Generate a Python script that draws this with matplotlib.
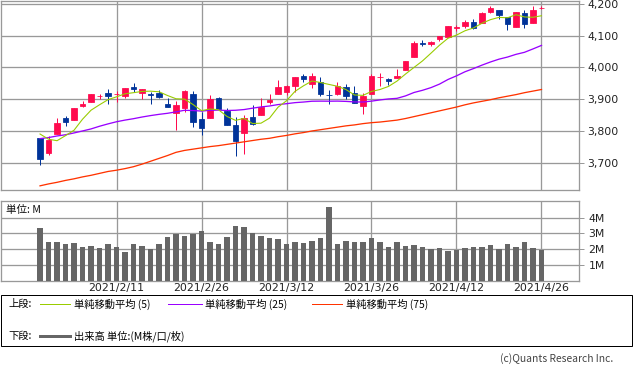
import matplotlib
matplotlib.use('Agg')
import matplotlib.pyplot as plt
from matplotlib.lines import Line2D
from matplotlib.patches import Rectangle
import numpy as np

# ---------------- data ----------------
date_ticks = [9, 19, 29, 39, 49, 59]
date_labels = ["2021/2/11", "2021/2/26", "2021/3/12", "2021/3/26", "2021/4/12", "2021/4/26"]
price_ticks = [3700, 3800, 3900, 4000, 4100, 4200]
price_labels = ["3,700", "3,800", "3,900", "4,000", "4,100", "4,200"]
vol_ticks = [1, 2, 3, 4]
vol_labels = ["1M", "2M", "3M", "4M"]

opens = [3778.1, 3731.2, 3791.8, 3840.3, 3836.7, 3878.3, 3892.6, 3910.5, 3920.8, 3916.4,
         3911.7, 3939.6, 3918.5, 3915.9, 3921.2, 3885.6, 3857.1, 3873.7, 3915.8, 3839.7,
         3842.5, 3903.6, 3864.0, 3818.5, 3793.6, 3844.4, 3851.9, 3892.0, 3915.5, 3924.5,
         3943.0, 3973.6, 3949.6, 3953.5, 3913.14, 3916.5, 3937.6, 3919.9, 3879.3, 3917.1,
         3969.3, 3963.3, 3967.3, 3992.8, 4034.4, 4075.6, 4074.3, 4090.0, 4096.1, 4124.7,
         4130.1, 4141.6, 4139.8, 4174.1, 4179.8, 4159.2, 4128.4, 4170.5, 4138.8, 4185.0]
highs = [3778.1, 3784.3, 3843.1, 3847.5, 3872.4, 3894.6, 3915.8, 3918.4, 3931.5, 3926.0,
         3937.2, 3950.4, 3933.6, 3922.0, 3930.4, 3902.9, 3896.0, 3928.7, 3925.0, 3861.1,
         3914.5, 3906.4, 3874.5, 3843.7, 3851.7, 3881.1, 3903.8, 3917.4, 3960.3, 3945.0,
         3970.1, 3981.0, 3983.9, 3969.6, 3930.1, 3955.3, 3949.1, 3942.1, 3919.5, 3978.2,
         3981.8, 3968.0, 3994.4, 4020.6, 4083.4, 4086.2, 4083.1, 4098.2, 4129.5, 4131.8,
         4148.0, 4151.7, 4173.5, 4191.3, 4180.8, 4159.2, 4175.0, 4179.6, 4194.2, 4194.2]
lows = [3694.1, 3725.6, 3791.8, 3816.7, 3836.7, 3874.9, 3892.6, 3902.6, 3884.9, 3890.4,
        3905.8, 3923.9, 3900.4, 3885.0, 3903.1, 3874.7, 3805.6, 3859.6, 3814.0, 3789.5,
        3842.5, 3868.6, 3818.9, 3723.3, 3730.2, 3819.3, 3851.9, 3885.7, 3915.5, 3915.2,
        3923.5, 3953.4, 3935.7, 3910.9, 3886.8, 3914.2, 3901.6, 3889.1, 3853.5, 3917.1,
        3943.3, 3944.4, 3967.0, 3992.8, 4034.4, 4068.1, 4068.3, 4082.5, 4095.5, 4114.8,
        4124.4, 4120.9, 4139.8, 4170.8, 4150.5, 4118.4, 4126.4, 4123.7, 4138.8, 4182.4]
closes = [3714.2, 3773.9, 3826.3, 3830.2, 3871.7, 3886.8, 3915.6, 3911.2, 3909.9, 3916.4,
          3934.8, 3932.6, 3931.3, 3914.0, 3906.7, 3876.5, 3881.4, 3925.4, 3829.3, 3811.2,
          3901.8, 3870.3, 3819.7, 3768.5, 3841.9, 3821.4, 3875.4, 3898.8, 3939.3, 3943.3,
          3968.9, 3962.7, 3974.1, 3915.5, 3913.10, 3940.6, 3910.5, 3889.1, 3909.5, 3974.5,
          3971.1, 3958.6, 3972.9, 4019.9, 4077.9, 4073.9, 4080.0, 4097.2, 4128.8, 4128.0,
          4141.6, 4124.7, 4170.4, 4185.5, 4163.3, 4134.9, 4173.4, 4135.0, 4180.2, 4187.6]
volume = [3.37, 2.47, 2.47, 2.34, 2.40, 2.15, 2.21, 2.09, 2.34, 2.15,
          1.84, 2.34, 2.21, 2.03, 2.34, 2.78, 2.97, 2.85, 2.97, 3.16,
          2.47, 2.34, 2.78, 3.48, 3.41, 3.03, 2.85, 2.72, 2.66, 2.34,
          2.47, 2.40, 2.53, 2.72, 4.68, 2.34, 2.53, 2.47, 2.47, 2.72,
          2.47, 2.15, 2.47, 2.21, 2.28, 2.15, 2.03, 2.09, 1.90, 1.96,
          2.09, 2.15, 2.15, 2.28, 2.03, 2.34, 2.15, 2.47, 2.09, 1.96]
ma5 = [3791.5, 3775.2, 3770.5, 3786.4, 3803.3, 3837.8, 3866.1, 3883.1, 3899.1, 3908.0,
       3917.6, 3921.0, 3925.0, 3925.8, 3923.9, 3912.2, 3902.0, 3900.8, 3883.9, 3864.8,
       3869.8, 3867.6, 3846.5, 3834.3, 3840.4, 3824.4, 3825.4, 3841.2, 3875.4, 3895.7,
       3925.2, 3942.6, 3957.7, 3952.9, 3946.9, 3941.2, 3930.8, 3913.8, 3912.6, 3924.9,
       3931.0, 3940.6, 3957.3, 3979.4, 4000.1, 4020.6, 4044.9, 4069.8, 4091.6, 4101.6,
       4115.1, 4124.0, 4138.7, 4150.0, 4157.1, 4155.8, 4165.5, 4158.4, 4157.4, 4162.2]
ma25 = [3777.0, 3780.3, 3785.3, 3789.1, 3794.8, 3801.0, 3807.4, 3815.8, 3823.2, 3829.9,
        3835.1, 3839.5, 3844.7, 3849.2, 3853.1, 3856.4, 3860.9, 3865.9, 3865.0, 3863.4,
        3865.8, 3866.4, 3865.2, 3865.9, 3868.1, 3872.4, 3876.4, 3879.3, 3883.7, 3886.5,
        3889.8, 3891.7, 3894.2, 3894.5, 3894.3, 3894.6, 3893.7, 3892.0, 3891.8, 3894.5,
        3898.3, 3901.4, 3903.3, 3910.9, 3921.6, 3928.5, 3936.9, 3947.9, 3962.4, 3973.8,
        3986.6, 3996.6, 4007.4, 4017.3, 4026.1, 4032.7, 4041.2, 4047.6, 4058.2, 4069.2]
ma75 = [3629, 3635, 3640, 3646, 3651, 3657, 3662, 3668, 3674, 3678,
        3683, 3689, 3697, 3706, 3715, 3724, 3734, 3740, 3744, 3748,
        3752, 3755, 3759, 3763, 3767, 3771, 3775, 3778, 3783, 3787,
        3792, 3796, 3801, 3805, 3809, 3813, 3817, 3820, 3824, 3827,
        3829, 3832, 3835, 3840, 3846, 3852, 3858, 3864, 3870, 3876,
        3883, 3889, 3894, 3899, 3905, 3910, 3915, 3921, 3926, 3931]

# ---------------- style ----------------
RED = '#FF0A4E'
BLUE = '#003399'
C5 = '#99CC00'
C25 = '#9900FF'
C75 = '#FF3300'
CVOL = '#666666'
GRID = '#999999'
JP = ['Noto Sans CJK JP', 'DejaVu Sans']

plt.rcParams['font.family'] = ['DejaVu Sans']

W, H = 633, 373
fig = plt.figure(figsize=(W / 100, H / 100), dpi=100)
PX = 72 / 100  # points per pixel


def fx(x):
    return x / W


def fy(y):
    return 1 - y / H


# price panel
ax = fig.add_axes([fx(0.5), fy(190.3), fx(578.8), 189.8 / H])
# volume panel
axv = fig.add_axes([fx(0.5), fy(281), fx(578.8), 80 / H])

o = np.array(opens); h = np.array(highs); l = np.array(lows); c = np.array(closes)
x = np.arange(len(c))
cols = np.where(c >= o, RED, BLUE)

ax.vlines(x, l, h, colors=cols, lw=1 * PX, zorder=3)
ax.bar(x, np.abs(c - o), bottom=np.minimum(o, c), width=0.7, color=cols,
       edgecolor=cols, linewidth=0.8 * PX, zorder=4)
ax.plot(x, ma75, color=C75, lw=1.3 * PX, zorder=5)
ax.plot(x, ma25, color=C25, lw=1.3 * PX, zorder=5)
ax.plot(x, ma5, color=C5, lw=1.1 * PX, zorder=5)

xl = (-4.65, 63.45)
ax.set_xlim(*xl)
ax.set_ylim(3615, 4210)
ax.set_xticks(date_ticks)
ax.set_xticklabels([])
ax.tick_params(axis='x', length=0)
ax.set_yticks(price_ticks)
ax.set_yticklabels(price_labels)
ax.yaxis.tick_right()
ax.tick_params(axis='y', length=5 * PX, width=1 * PX, color=GRID, pad=3 * PX,
               labelsize=7.8, labelcolor='#222222')
ax.grid(True, color=GRID, lw=1.3 * PX, zorder=0)
ax.set_axisbelow(True)
for s in ax.spines.values():
    s.set_color(GRID)
    s.set_linewidth(1.3 * PX)

axv.bar(x, volume, width=0.7, color=CVOL, zorder=3)
axv.set_xlim(*xl)
axv.set_ylim(0, 5.05)
axv.set_xticks(date_ticks)
axv.set_xticklabels(date_labels, fontsize=7.9, color='#222222')
axv.tick_params(axis='x', length=0, pad=2.5 * PX)
axv.set_yticks(vol_ticks)
axv.set_yticklabels(vol_labels)
axv.yaxis.tick_right()
axv.tick_params(axis='y', length=5 * PX, width=1 * PX, color=GRID, pad=4 * PX,
                labelsize=7.8, labelcolor='#222222')
axv.grid(True, color=GRID, lw=1.3 * PX, zorder=0)
axv.set_axisbelow(True)
for s in axv.spines.values():
    s.set_color(GRID)
    s.set_linewidth(1.3 * PX)
axv.text(0.009, 0.885, '単位: M', transform=axv.transAxes, fontsize=7.6,
         family=JP, va='center', ha='left', color='#111111')

# legend box
fig.patches.append(Rectangle((fx(0.5), fy(346)), fx(631.5), 51 / H, transform=fig.transFigure,
                             fill=False, edgecolor='black', lw=1 * PX))

row1 = fy(304)
row2 = fy(336)
lfs = 7.4
fig.text(fx(8), row1, '上段:', family=JP, fontsize=lfs, va='center', ha='left')
fig.text(fx(8), row2, '下段:', family=JP, fontsize=lfs, va='center', ha='left')

legend_items = [(40, 70, 74, C5, '単純移動平均 (5)'),
                (168, 202, 205, C25, '単純移動平均 (25)'),
                (312, 342, 346, C75, '単純移動平均 (75)')]
for x0, x1, tx, col, lab in legend_items:
    fig.add_artist(Line2D([fx(x0), fx(x1)], [row1, row1], transform=fig.transFigure,
                          color=col, lw=1 * PX))
    fig.text(fx(tx), row1, lab, family=JP, fontsize=lfs, va='center', ha='left')

fig.add_artist(Line2D([fx(40), fx(70)], [row2, row2], transform=fig.transFigure,
                      color=CVOL, lw=3 * PX))
fig.text(fx(74), row2, '出来高 単位:(M株/口/枚)', family=JP, fontsize=lfs, va='center', ha='left')

fig.text(fx(613), fy(359), '(c)Quants Research Inc.', family=JP, fontsize=7.4,
         va='center', ha='right', color='#444444')

fig.savefig('out.png', dpi=100)
